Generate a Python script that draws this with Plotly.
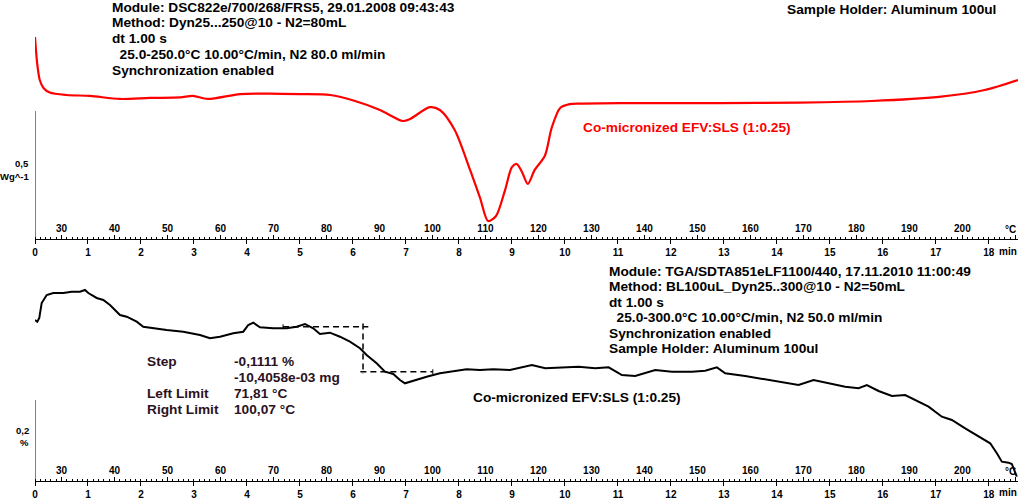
import plotly.graph_objects as go

# ---------------- data ----------------
T0, RATE = 25.0, 10.0  # start temperature (°C), heating rate (°C/min)

# DSC heat flow (W/g, arbitrary offset) vs temperature (°C)
dsc_temp = [25.0, 25.4, 25.9, 26.6, 27.8, 31.0, 35.4, 41.0, 46.7, 52.4, 54.8, 57.6,
            63.7, 69.3, 75.0, 80.7, 85.4, 90.1, 94.4, 95.8, 99.5, 101.4, 104.2, 107.1,
            109.0, 110.5, 112.0, 113.7, 115.0, 115.9, 116.9, 118.0, 119.3, 121.2, 122.5,
            124.1, 125.9, 127.8, 135.4, 154.2, 169.3, 182.9, 195.6, 204.2, 210.5]
dsc_flow = [0.789, 0.688, 0.621, 0.590, 0.572, 0.5625, 0.559, 0.547, 0.551, 0.553, 0.559,
            0.547, 0.566, 0.568, 0.566, 0.5625, 0.539, 0.504, 0.461, 0.469, 0.515, 0.504,
            0.426, 0.270, 0.160, 0.070, 0.090, 0.191, 0.281, 0.293, 0.262, 0.215, 0.270,
            0.324, 0.434, 0.512, 0.527, 0.529, 0.531, 0.531, 0.533, 0.539, 0.555, 0.582,
            0.621]

# TGA mass (% , arbitrary offset) vs temperature (°C)
tga_temp = [25.0, 25.43, 25.81, 26.26, 27.21, 28.45, 30.34, 31.92, 33.49, 34.43, 35.06,
            36.64, 37.89, 39.15, 40.42, 41.04, 42.30, 44.19, 45.43, 47.32, 49.85, 52.98,
            56.13, 58.02, 59.91, 62.42, 64.30, 65.25, 66.19, 67.45, 69.96, 72.49, 74.38,
            75.94, 77.51, 78.77, 80.66, 82.55, 84.43, 86.32, 87.58, 89.47, 91.04, 92.60,
            93.87, 94.81, 96.38, 98.91, 101.42, 103.92, 106.45, 108.96, 111.47, 114.62,
            118.77, 121.28, 124.43, 127.58, 130.72, 133.25, 135.75, 138.26, 142.04, 145.19,
            148.96, 151.47, 153.68, 155.25, 159.02, 162.79, 166.57, 169.09, 171.92, 174.75,
            177.89, 180.41, 181.98, 184.19, 186.70, 189.21, 191.09, 193.62, 196.13, 198.02,
            200.53, 203.05, 205.25, 206.51, 207.45, 208.72, 209.34, 210.28]
tga_mass = [0.3975, 0.3933, 0.4025, 0.4395, 0.4593, 0.4642, 0.4642, 0.4674, 0.4674, 0.4716,
            0.4642, 0.4519, 0.4469, 0.4346, 0.4180, 0.4099, 0.4057, 0.3933, 0.3810, 0.3770,
            0.3728, 0.3686, 0.3605, 0.3523, 0.3563, 0.3647, 0.3686, 0.3852, 0.3909, 0.3795,
            0.3770, 0.3770, 0.3810, 0.3877, 0.3770, 0.3630, 0.3662, 0.3563, 0.3440, 0.3277,
            0.3111, 0.2906, 0.2699, 0.2642, 0.2494, 0.2412, 0.2477, 0.2575, 0.2659, 0.2699,
            0.2758, 0.2741, 0.2758, 0.2741, 0.2864, 0.2783, 0.2807, 0.2822, 0.2783, 0.2807,
            0.2617, 0.2593, 0.2741, 0.2699, 0.2699, 0.2723, 0.2807, 0.2659, 0.2593, 0.2511,
            0.2427, 0.2370, 0.2494, 0.2412, 0.2328, 0.2289, 0.2370, 0.2222, 0.2099, 0.2123,
            0.2000, 0.1835, 0.1588, 0.1506, 0.1301, 0.1094, 0.0931, 0.0684, 0.0477, 0.0452,
            0.0420, 0.0106]

# step evaluation
step_left, step_right, step_mid = 71.81, 100.07, 86.9   # °C
step_top = 0.381                                          # % level before step
step_value = -0.1111                                      # %

temp_ticks = [30, 40, 50, 60, 70, 80, 90, 100, 110, 120, 130, 140, 150, 160, 170, 180, 190, 200, 210]
temp_labels = [str(t) for t in temp_ticks[:-1]] + [""]
temp_unit, time_unit = "°C", "min"

dsc_scale = 0.5   # W/g scale bar
tga_scale = 0.2   # % scale bar

dsc_header = ["Module: DSC822e/700/268/FRS5, 29.01.2008 09:43:43",
              "Method: Dyn25...250@10 - N2=80mL",
              "dt 1.00 s",
              "  25.0-250.0°C 10.00°C/min, N2 80.0 ml/min",
              "Synchronization enabled"]
tga_header = ["Module: TGA/SDTA851eLF1100/440, 17.11.2010 11:00:49",
              "Method: BL100uL_Dyn25..300@10 - N2=50mL",
              "dt 1.00 s",
              "  25.0-300.0°C 10.00°C/min, N2 50.0 ml/min",
              "Synchronization enabled",
              "Sample Holder: Aluminum 100ul"]
sample_name = "Co-micronized EFV:SLS (1:0.25)"


def to_min(T):
    return (T - T0) / RATE


# ---------------- layout helpers ----------------
W, H = 1024, 502
L, R = 35, 6


def px(x):
    return (x - L) / (W - L - R)


def py(y):
    return 1 - y / H


FONT = "Liberation Sans, Arial, sans-serif"

fig = go.Figure()
fig.add_trace(go.Scatter(x=[to_min(t) for t in dsc_temp], y=dsc_flow, mode="lines",
                         line=dict(color="#ff0000", width=2.2, shape="spline", smoothing=0.8),
                         xaxis="x", yaxis="y", showlegend=False, hoverinfo="skip"))
fig.add_trace(go.Scatter(x=[to_min(t) for t in tga_temp], y=tga_mass, mode="lines",
                         line=dict(color="#000000", width=2),
                         xaxis="x2", yaxis="y2", showlegend=False, hoverinfo="skip"))

step_bot = step_top + step_value
dash = dict(color="black", width=1.5, dash="6px,4px")
# step construction lines
fig.add_trace(go.Scatter(x=[to_min(step_left), to_min(step_mid + 1.0)], y=[step_top, step_top],
                         mode="lines", line=dash, xaxis="x2", yaxis="y2", showlegend=False, hoverinfo="skip"))
fig.add_trace(go.Scatter(x=[to_min(step_mid), to_min(step_mid)], y=[step_top + 0.008, step_bot - 0.005],
                         mode="lines", line=dash, xaxis="x2", yaxis="y2", showlegend=False, hoverinfo="skip"))
fig.add_trace(go.Scatter(x=[to_min(step_mid - 0.5), to_min(step_right)], y=[step_bot, step_bot],
                         mode="lines", line=dash, xaxis="x2", yaxis="y2", showlegend=False, hoverinfo="skip"))

xr = [0, 18.55]
tickfont = dict(family=FONT, size=10, color="black", weight="bold")
common_x = dict(range=xr, showgrid=False, zeroline=False, fixedrange=True, automargin=False)

fig.update_layout(
    width=W, height=H, margin=dict(l=L, r=R, t=0, b=0),
    paper_bgcolor="white", plot_bgcolor="rgba(0,0,0,0)",
    xaxis=dict(**common_x, domain=[0, 1], anchor="y", showline=True, linecolor="black", linewidth=1,
               ticks="outside", ticklen=4, tickcolor="black", tickmode="linear", tick0=0, dtick=1,
               tickfont=tickfont, minor=dict(ticks="inside", dtick=0.1, ticklen=2, tickcolor="black")),
    xaxis3=dict(**common_x, overlaying="x", anchor="y", side="bottom", showline=False,
                tickmode="array", tickvals=[to_min(t) for t in temp_ticks], ticktext=temp_labels,
                ticks="inside", ticklen=4, tickcolor="black", ticklabelposition="inside",
                tickfont=tickfont),
    yaxis=dict(domain=[py(239), 1], range=[0, 239 / 256], visible=False, fixedrange=True),
    xaxis2=dict(**common_x, domain=[0, 1], anchor="y2", showline=True, linecolor="black", linewidth=1,
                ticks="outside", ticklen=4, tickcolor="black", tickmode="linear", tick0=0, dtick=1,
                tickfont=tickfont, minor=dict(ticks="inside", dtick=0.1, ticklen=2, tickcolor="black")),
    xaxis4=dict(**common_x, overlaying="x2", anchor="y2", side="bottom", showline=False,
                tickmode="array", tickvals=[to_min(t) for t in temp_ticks], ticktext=temp_labels,
                ticks="inside", ticklen=4, tickcolor="black", ticklabelposition="inside",
                tickfont=tickfont),
    yaxis2=dict(domain=[py(481), py(280)], range=[0, (481 - 280) / 405], visible=False, fixedrange=True),
)

# invisible anchors so overlay axes render
fig.add_trace(go.Scatter(x=[None], y=[None], xaxis="x3", yaxis="y", showlegend=False))
fig.add_trace(go.Scatter(x=[None], y=[None], xaxis="x4", yaxis="y2", showlegend=False))

# scale bars (y axes)
for yref, val in (("y", dsc_scale), ("y2", tga_scale)):
    fig.add_shape(type="line", xref="x", yref=yref, x0=0, x1=0, y0=0, y1=val,
                  line=dict(color="black", width=1))
    fig.add_shape(type="line", xref="x", yref=yref, x0=-0.07, x1=0, y0=val, y1=val,
                  line=dict(color="black", width=1))

# limit markers
for T, lev in ((step_left, step_top), (step_right, step_bot)):
    fig.add_shape(type="line", xref="x2", yref="y2", x0=to_min(T), x1=to_min(T),
                  y0=lev - 0.006, y1=lev + 0.006, line=dict(color="black", width=1))

ann = []


def text(x, y, s, size=13.7, color="black", anchor="left"):
    ann.append(dict(x=px(x), y=py(y), xref="paper", yref="paper", text=s, showarrow=False,
                    xanchor=anchor, yanchor="middle", borderpad=0,
                    font=dict(family=FONT, size=size, color=color, weight="bold")))


ys = [7.7, 22.5, 38.2, 54.2, 70]
for i, s in enumerate(dsc_header):
    text(111, ys[i], s.replace("  ", "&nbsp;&nbsp;"))
text(786, 9.5, "Sample Holder: Aluminum 100ul")
text(582, 127, sample_name, color="#ff0000")

ys2 = [271, 286.7, 302, 317.7, 333.3, 348.5]
for i, s in enumerate(tga_header):
    text(608, ys2[i], s.replace("  ", "&nbsp;&nbsp;"))
text(472, 397, sample_name)

sc = "#2a1222"
text(146, 361, "Step", color=sc)
text(233, 361, "%s %%" % ("{:.4f}".format(step_value).replace(".", ",")), color=sc)
text(233, 377.3, "-10,4058e-03 mg", color=sc)
text(146, 393.3, "Left Limit", color=sc)
text(233, 393.3, "%s °C" % ("{:.2f}".format(step_left).replace(".", ",")), color=sc)
text(146, 409, "Right Limit", color=sc)
text(233, 409, "%s °C" % ("{:.2f}".format(step_right).replace(".", ",")), color=sc)

# scale bar labels
text(30, 164, str(dsc_scale).replace(".", ","), size=9.5, anchor="right")
text(30, 176, "Wg^-1", size=9.5, anchor="right")
text(30, 430, str(tga_scale).replace(".", ","), size=9.5, anchor="right")
text(30, 442, "%", size=9.5, anchor="right")
# axis units
text(998, 251, time_unit, size=10)
text(998, 492, time_unit, size=10)
text(1004, 229, temp_unit, size=10)
text(1004, 471, temp_unit, size=10)

fig.update_layout(annotations=ann)
fig.write_html("out.html", config={"displayModeBar": False},
               post_script="document.body.style.margin='0';document.body.style.overflow='hidden';")
